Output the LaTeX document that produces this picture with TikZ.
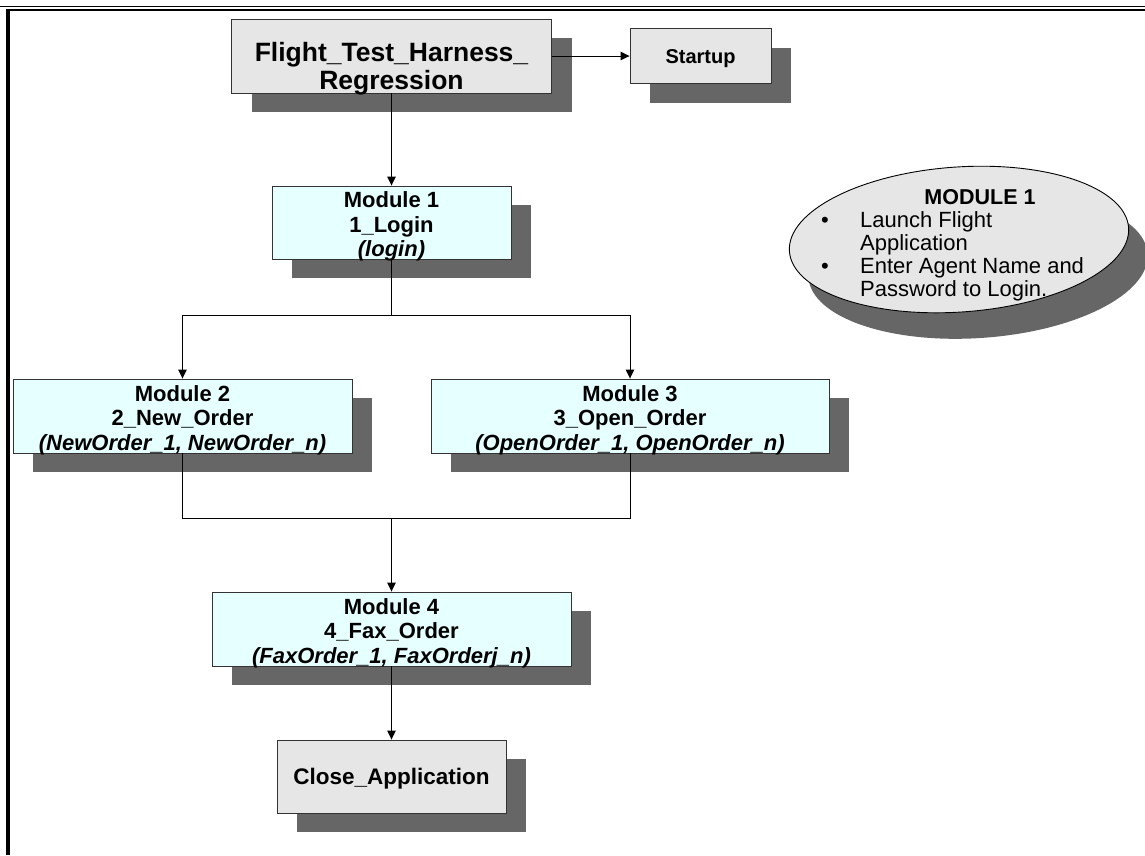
\documentclass[tikz,border=0pt]{standalone}
\usepackage{fontspec}
\setmainfont{Liberation Sans}
\usetikzlibrary{arrows.meta,shadows,shapes.geometric}
\definecolor{boxgray}{HTML}{E6E6E6}
\definecolor{modcyan}{HTML}{E6FFFF}
\definecolor{shadowgray}{HTML}{666666}
\begin{document}
\begin{tikzpicture}[x=1pt,y=-1pt,
  base/.style={draw=black!80, line width=0.9pt, inner sep=0pt,
    drop shadow={shadow xshift=20pt, shadow yshift=-19pt, opacity=1, fill=shadowgray}},
  graybox/.style={base, fill=boxgray},
  modbox/.style={base, fill=modcyan},
  lbl/.style={inner sep=0pt, align=center, font=\bfseries\fontsize{22}{24.5}\selectfont},
  conn/.style={draw=black, line width=0.9pt},
  arr/.style={conn, -{Triangle[length=9pt,width=8.5pt]}},
  notetext/.style={font=\fontsize{22}{23}\selectfont, inner sep=0pt},
]
\useasboundingbox (0,0) rectangle (1145,855);
% page border
\draw[line width=1.2pt] (0,6.5) -- (1145,6.5);
\draw[line width=2.4pt] (6,10) -- (1145,10);
\draw[line width=4pt] (8,9) -- (8,855);

% boxes
\node[graybox, minimum width=320pt, minimum height=74pt] (flight) at (391.5,56) {};
\node[lbl, font=\bfseries\fontsize{26.5}{28}\selectfont] (flightt) at ([yshift=-12.5pt]flight.center)
  {Flight\_Test\_Harness\_\\Regression};
\node[graybox, minimum width=141pt, minimum height=55pt] (startup) at (700.5,56) {};
\node[lbl, font=\bfseries\fontsize{20}{22}\selectfont] (startupt) at ([yshift=-3pt]startup.center) {Startup};
\node[modbox, minimum width=239pt, minimum height=73pt] (m1) at (391.5,222.5) {};
\node[lbl] (m1t) at ([yshift=-4pt]m1.center) {Module 1\\1\_Login\\\textit{(login)}};
\node[modbox, minimum width=339pt, minimum height=74pt] (m2) at (182.5,416) {};
\node[lbl] (m2t) at ([yshift=-4pt]m2.center) {Module 2\\2\_New\_Order\\\textit{(NewOrder\_1, NewOrder\_n)}};
\node[modbox, minimum width=398pt, minimum height=74pt] (m3) at (630,416) {};
\node[lbl] (m3t) at ([yshift=-4pt]m3.center) {Module 3\\3\_Open\_Order\\\textit{(OpenOrder\_1, OpenOrder\_n)}};
\node[modbox, minimum width=359pt, minimum height=74pt] (m4) at (391.5,629) {};
\node[lbl] (m4t) at ([yshift=-4pt]m4.center) {Module 4\\4\_Fax\_Order\\\textit{(FaxOrder\_1, FaxOrderj\_n)}};
\node[graybox, minimum width=229pt, minimum height=73pt] (close) at (391.5,776.5) {};
\node[lbl, font=\bfseries\fontsize{22.5}{24.5}\selectfont] (closet) at ([yshift=-2pt]close.center) {Close\_Application};

% note ellipse
\node[ellipse, draw=black, line width=0.9pt, fill=boxgray, inner sep=0pt,
  minimum width=340pt, minimum height=145pt, rotate=4,
  drop shadow={shadow xshift=19pt, shadow yshift=-26pt, opacity=1, fill=shadowgray}] (note) at (959,239.5) {};
\node[notetext, anchor=base, font=\bfseries\fontsize{21.5}{23}\selectfont] (nh) at (980,204) {MODULE 1};
\node[notetext, anchor=base] (b1) at (825,227) {\textbullet};
\node[notetext, anchor=base west] (t1) at (860,227) {Launch Flight};
\node[notetext, anchor=base west] (t2) at (860,250) {Application};
\node[notetext, anchor=base] (b2) at (825,273) {\textbullet};
\node[notetext, anchor=base west] (t3) at (860,273) {Enter Agent Name and};
\node[notetext, anchor=base west] (t4) at (860,296) {Password to Login.};

% connectors
\draw[arr] (flight.east) -- (startup.west);
\draw[arr] (flight.south) -- (m1.north);
\coordinate (split) at (391.5,315);
\draw[conn] (m1.south) -- (split);
\draw[arr] (split) -| (m2.north);
\draw[arr] (split) -| (m3.north);
\coordinate (join) at (391.5,518);
\draw[conn] (m2.south) |- (join);
\draw[conn] (m3.south) |- (join);
\draw[arr] (join) -- (m4.north);
\draw[arr] (m4.south) -- (close.north);
\end{tikzpicture}
\end{document}
